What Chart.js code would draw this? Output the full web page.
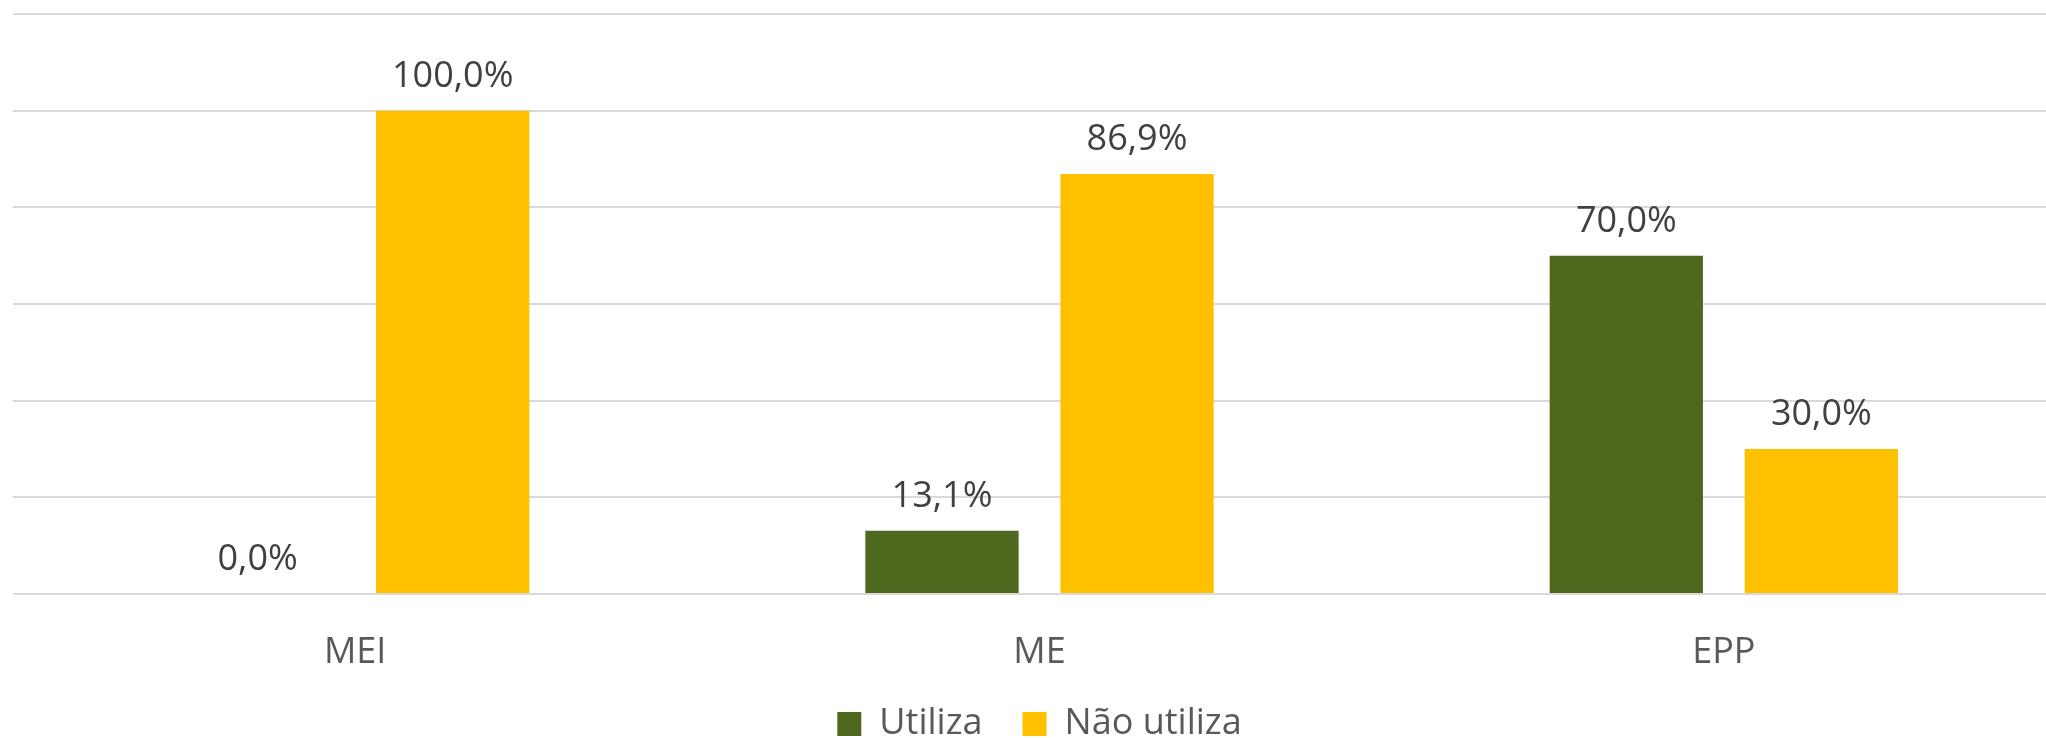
<!DOCTYPE html>
<html>
<head>
<meta charset="utf-8">
<script src="https://cdn.jsdelivr.net/npm/chart.js@4/dist/chart.umd.min.js"></script>
<style>
  html, body { margin: 0; padding: 0; background: #fff; overflow: hidden; }
  #wrap { width: 2080px; height: 738px; }
</style>
</head>
<body>
<div id="wrap"><canvas id="chart" width="2080" height="738"></canvas></div>
<script>
// chart data
const categories = ['MEI', 'ME', 'EPP'];
const utiliza = [0.0, 13.1, 70.0];
const naoUtiliza = [100.0, 86.9, 30.0];
const seriesNames = ['Utiliza', 'Não utiliza'];

const green = '#4e691e';
const yellow = '#ffc000';
const FONT = "'Open Sans', 'Noto Sans', sans-serif";

// draws the value above each bar, e.g. 13,1%
const valueLabels = {
    id: 'valueLabels',
    afterDatasetsDraw(chart) {
        const ctx = chart.ctx;
        ctx.save();
        ctx.font = '36px ' + FONT;
        ctx.fillStyle = '#404040';
        ctx.textAlign = 'center';
        ctx.textBaseline = 'alphabetic';
        chart.data.datasets.forEach((ds, i) => {
            const meta = chart.getDatasetMeta(i);
            meta.data.forEach((bar, j) => {
                const txt = ds.data[j].toFixed(1).replace('.', ',') + '%';
                ctx.fillText(txt, bar.x, bar.y - 24);
            });
        });
        ctx.restore();
    }
};

new Chart(document.getElementById('chart'), {
    type: 'bar',
    data: {
        labels: categories,
        datasets: [
            { label: seriesNames[0], data: utiliza, backgroundColor: green },
            { label: seriesNames[1], data: naoUtiliza, backgroundColor: yellow }
        ]
    },
    options: {
        responsive: false,
        animation: false,
        categoryPercentage: 0.57,
        barPercentage: 0.786,
        layout: { padding: { left: 13, right: 14, top: 14, bottom: 0 } },
        scales: {
            x: {
                grid: { display: false },
                border: { display: false },
                ticks: { color: '#595959', font: { family: FONT, size: 36 }, padding: 29 },
                // keep the axis band tight so the legend sits close below it
                afterFit: (scale) => { scale.height = 72; }
            },
            y: {
                min: 0,
                max: 120,
                ticks: { display: false, stepSize: 20 },
                grid: { color: '#d9d9d9', lineWidth: 2, drawTicks: false },
                border: { display: false }
            }
        },
        plugins: {
            legend: {
                position: 'bottom',
                maxHeight: 72,
                labels: {
                    color: '#595959',
                    font: { family: FONT, size: 36 },
                    boxWidth: 24,
                    boxHeight: 24,
                    padding: 40
                }
            },
            tooltip: { enabled: false }
        }
    },
    plugins: [valueLabels]
});
</script>
</body>
</html>
